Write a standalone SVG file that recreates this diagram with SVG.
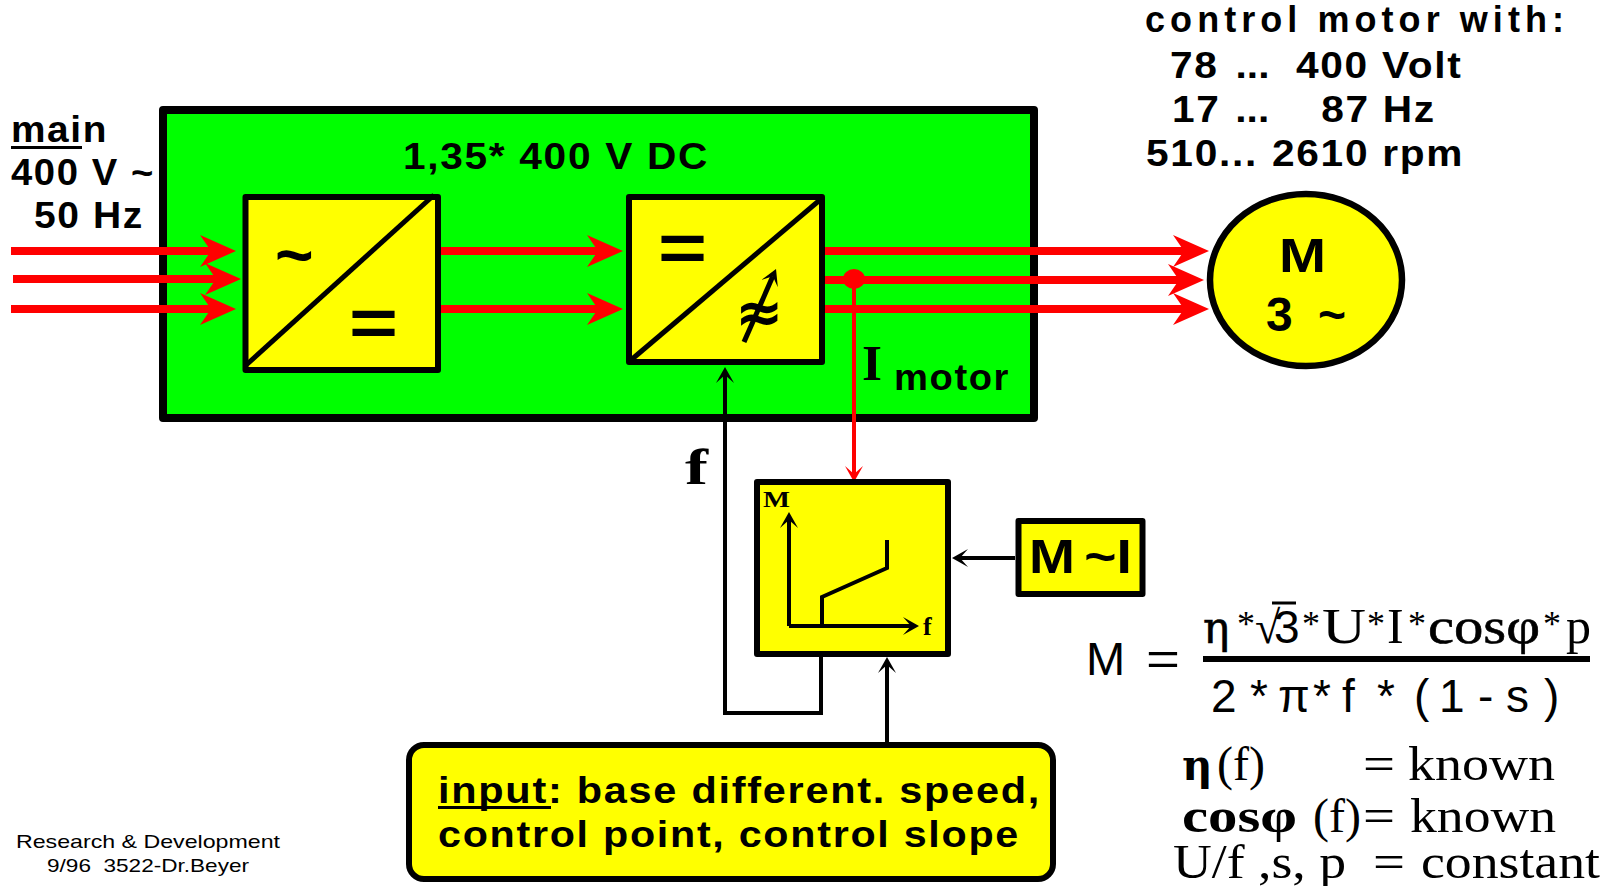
<svg xmlns="http://www.w3.org/2000/svg" width="1606" height="886" viewBox="0 0 1606 886">
<style>
text{fill:#000;white-space:pre}
.a{font-family:"Liberation Sans",Arial,sans-serif;font-weight:700;font-size:36px;letter-spacing:1.5px}
.r{font-family:"Liberation Sans",Arial,sans-serif;font-weight:400}
.s{font-family:"Liberation Serif","Times New Roman",serif;font-size:48px}
.sb{font-family:"Liberation Serif","Times New Roman",serif;font-weight:700}
.d{font-family:"DejaVu Serif",serif;font-size:44px}
.box{fill:#ff0;stroke:#000;stroke-width:6;stroke-linejoin:round}
.k{fill:none;stroke:#000;stroke-width:4}
.dg{fill:none;stroke:#000;stroke-width:5}
.u{fill:none;stroke:#000;stroke-width:3}
.big{fill:none;stroke:#f00;stroke-width:8;marker-end:url(#bigR)}
</style>
<defs>
<marker id="bigR" markerUnits="userSpaceOnUse" markerWidth="36" markerHeight="32" viewBox="0 0 36 32" refX="12" refY="16" orient="auto"><path d="M0 0L36 16L0 32L11 16Z" fill="#f00"/></marker>
<marker id="smK" markerUnits="userSpaceOnUse" markerWidth="16" markerHeight="18" viewBox="0 0 16 18" refX="8" refY="9" orient="auto"><path d="M0 0L16 9L0 18L8 9Z" fill="#000"/></marker>
<marker id="smR" markerUnits="userSpaceOnUse" markerWidth="16" markerHeight="18" viewBox="0 0 16 18" refX="8" refY="9" orient="auto"><path d="M0 0L16 9L0 18L8 9Z" fill="#f00"/></marker>
</defs>
<g id="drive"><rect x="163" y="110" width="871" height="308" fill="#0f0" stroke="#000" stroke-width="8" stroke-linejoin="round"/>
<text class="a" x="403" y="169" textLength="306" lengthAdjust="spacingAndGlyphs">1,35* 400 V DC</text>
<text class="sb" x="862" y="380" font-size="50" textLength="20" lengthAdjust="spacingAndGlyphs">I</text>
<text class="a" x="894" y="390" textLength="116" lengthAdjust="spacingAndGlyphs">motor</text></g>
<g id="connectors">
<path class="big" d="M11 251H212"/>
<path class="big" d="M13 279H217"/>
<path class="big" d="M11 309H212"/>
<path class="big" d="M441 251H599"/>
<path class="big" d="M441 309H599"/>
<path class="big" d="M825 251H1185"/>
<path class="big" d="M825 280H1180"/>
<path class="big" d="M825 309H1185"/>
<ellipse cx="854" cy="279" rx="11" ry="10" fill="#f00"/>
<path d="M854 279V474" fill="none" stroke="#f00" stroke-width="4" marker-end="url(#smR)"/>
<path class="k" d="M821 655V713H725V375" marker-end="url(#smK)"/>
<path class="k" d="M1015 558H960" marker-end="url(#smK)"/>
<path class="k" d="M887 742V665" marker-end="url(#smK)"/>
</g>
<g id="rectifier"><rect class="box" x="245.500" y="197" width="192.500" height="173"/>
<path class="dg" d="M245 366L434 195"/>
<text class="a" x="275" y="278" style="font-size:66px;letter-spacing:0">~</text>
<text class="a" x="349" y="346" style="font-size:66px;letter-spacing:0" textLength="49" lengthAdjust="spacingAndGlyphs">=</text></g>
<g id="inverter"><rect class="box" x="629" y="197" width="193" height="165"/>
<path class="dg" d="M631 360L821 199"/>
<text class="a" x="658" y="271" style="font-size:66px;letter-spacing:0" textLength="49" lengthAdjust="spacingAndGlyphs">=</text>
<text x="735" y="332" font-family="'DejaVu Sans',sans-serif" font-weight="700" font-size="58">≈</text>
<path d="M744 342L772.800 276.300" fill="none" stroke="#000" stroke-width="5" marker-end="url(#smK)"/></g>
<g id="motor"><ellipse cx="1306" cy="280" rx="96" ry="86" fill="#ff0" stroke="#000" stroke-width="6.500"/>
<text class="a" x="1279" y="272" style="font-size:48px;letter-spacing:0" textLength="47" lengthAdjust="spacingAndGlyphs">M</text>
<text class="a" x="1266 1295 1318" y="331" style="font-size:48px;letter-spacing:0">3 ~</text></g>
<g id="characteristic"><rect class="box" x="757" y="482" width="191" height="172"/>
<text class="sb" x="763" y="507" font-size="24" textLength="27" lengthAdjust="spacingAndGlyphs">M</text>
<path d="M789 626V520" class="k" marker-end="url(#smK)"/>
<path d="M789 626H911" class="k" marker-end="url(#smK)"/>
<path class="k" d="M822 626V597L887 568V540"/>
<text class="sb" x="923" y="635" font-size="26">f</text></g>
<g id="torque-current"><rect class="box" x="1018.500" y="521" width="124" height="73"/>
<text class="a" transform="translate(1029 573) scale(1.150 1)" x="0 40 48 76" y="0" style="font-size:48px;letter-spacing:0">M ~I</text></g>
<g id="input"><rect class="box" x="409" y="745" width="644" height="134" rx="15" ry="15"/>
<text class="a" x="438" y="803" textLength="603" lengthAdjust="spacingAndGlyphs">input: base different. speed,</text>
<path class="u" d="M438 807.500H551"/>
<text class="a" x="438" y="847" textLength="582" lengthAdjust="spacingAndGlyphs">control point, control slope</text></g>
<g id="labels">
<text class="sb" x="685" y="484" font-size="50" textLength="23" lengthAdjust="spacingAndGlyphs">f</text>
<text class="a" x="11" y="142" textLength="97" lengthAdjust="spacingAndGlyphs">main</text>
<path class="u" d="M11 147.500H82"/>
<text class="a" x="11" y="185" textLength="144" lengthAdjust="spacingAndGlyphs">400 V ~</text>
<text class="a" x="34" y="228" textLength="110" lengthAdjust="spacingAndGlyphs">50 Hz</text>
<text class="a" x="1145" y="32" textLength="422" style="letter-spacing:3px">control motor with:</text>
<text class="a" transform="translate(1170 78) scale(1.130 1)" y="0"><tspan x="0">78</tspan><tspan x="58" style="letter-spacing:0">...</tspan><tspan x="111.500">400 Volt</tspan></text>
<text class="a" transform="translate(1172 122) scale(1.130 1)" y="0"><tspan x="0">17</tspan><tspan x="56" style="letter-spacing:0">...</tspan><tspan x="132">87 Hz</tspan></text>
<text class="a" transform="translate(1146 166) scale(1.130 1)" y="0"><tspan x="0">510...</tspan><tspan x="111.500">2610 rpm</tspan></text>
<text class="r" x="16" y="848" font-size="19" textLength="264" lengthAdjust="spacingAndGlyphs">Research &amp; Development</text>
<text class="r" x="47" y="872" font-size="19" textLength="202" lengthAdjust="spacingAndGlyphs">9/96  3522-Dr.Beyer</text>
</g>
<g id="formula">
<text class="r" x="1086" y="675" font-size="47">M</text>
<text class="r" x="1146" y="675" font-size="46" textLength="34" lengthAdjust="spacingAndGlyphs">=</text>
<text class="d" x="1203" y="643" style="stroke:#000;stroke-width:.6">η</text>
<text class="s" x="1237" y="636" style="font-size:36px">*</text>
<text class="s" x="1255" y="643" style="font-size:46px">√</text>
<text class="r" x="1274" y="643" font-size="46">3</text>
<text class="s" x="1302" y="636" style="font-size:36px">*</text>
<text class="s" x="1322" y="643" style="font-size:50px" textLength="44" lengthAdjust="spacingAndGlyphs">U</text>
<text class="s" x="1367" y="636" style="font-size:36px">*</text>
<text class="s" x="1387" y="643" style="font-size:50px">I</text>
<text class="s" x="1408" y="636" style="font-size:36px">*</text>
<text class="s" x="1428" y="643" style="font-size:50px;stroke:#000;stroke-width:.6" textLength="112" lengthAdjust="spacingAndGlyphs">cosφ</text>
<text class="s" x="1543" y="636" style="font-size:36px">*</text>
<text class="s" x="1566" y="643" style="font-size:50px">p</text>
<path d="M1272 603H1296" stroke="#000" stroke-width="3" fill="none"/>
<path d="M1203 659H1590" stroke="#000" stroke-width="6" fill="none"/>
<text class="r" y="712" font-size="46" x="1211 1250 1278 1313 1342 1377 1414 1439 1478 1506 1544">2*π*f*(1-s)</text>
<text class="d" x="1182" y="780" style="font-weight:700;font-size:42px">η</text>
<text class="s" x="1217" y="780">(f)</text>
<text class="s" x="1363" y="780" textLength="32" lengthAdjust="spacingAndGlyphs">=</text>
<text class="s" x="1408" y="780" textLength="147" lengthAdjust="spacingAndGlyphs">known</text>
<text class="sb" x="1182" y="832" font-size="48" textLength="115" lengthAdjust="spacingAndGlyphs">cosφ</text>
<text class="s" x="1313" y="832">(f)</text>
<text class="s" x="1363" y="832" textLength="32" lengthAdjust="spacingAndGlyphs">=</text>
<text class="s" x="1410" y="832" textLength="146" lengthAdjust="spacingAndGlyphs">known</text>
<text class="s" x="1173" y="878" textLength="173" lengthAdjust="spacingAndGlyphs">U/f ,s, p</text>
<text class="s" x="1373" y="878" textLength="32" lengthAdjust="spacingAndGlyphs">=</text>
<text class="s" x="1421" y="878" textLength="179" lengthAdjust="spacingAndGlyphs">constant</text>
</g>
</svg>
